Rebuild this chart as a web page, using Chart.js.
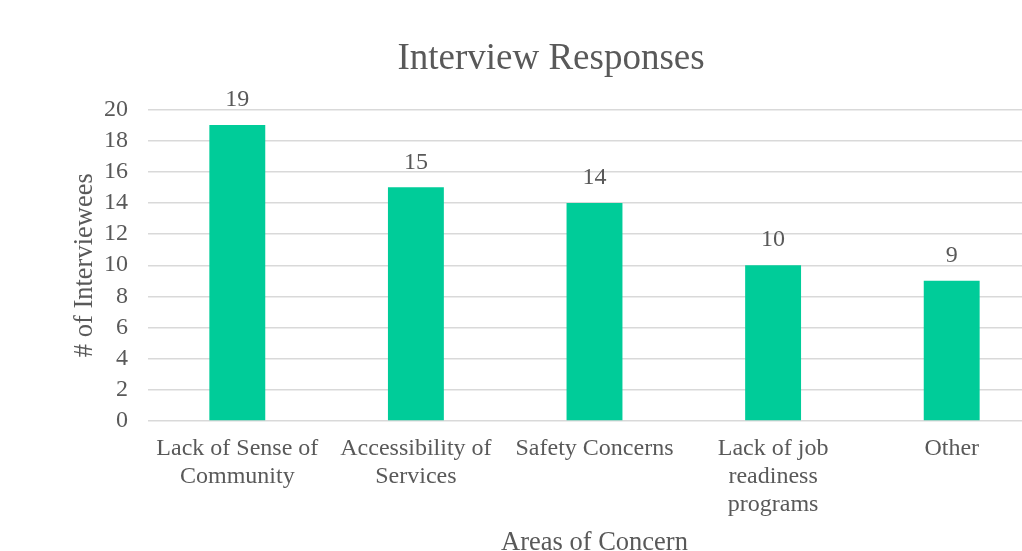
<!DOCTYPE html>
<html>
<head>
<meta charset="utf-8">
<script src="https://cdn.jsdelivr.net/npm/chart.js@4/dist/chart.umd.min.js"></script>
<style>
  html, body { margin: 0; padding: 0; overflow: hidden; background: #fff; }
  #wrap { width: 1102px; height: 551px; }
</style>
</head>
<body>
<div id="wrap"><canvas id="chart" width="1102" height="551"></canvas></div>
<script>
// --- data ---
const categories = [
    ['Lack of Sense of', 'Community'],
    ['Accessibility of', 'Services'],
    ['Safety Concerns'],
    ['Lack of job', 'readiness', 'programs'],
    ['Other']
];
const responses = [19, 15, 14, 10, 9];
const yTicks = [0, 2, 4, 6, 8, 10, 12, 14, 16, 18, 20];

const GRAY = '#595959';
const SERIF = '"Liberation Serif", "Times New Roman", serif';

// value labels on top of each bar
const barLabels = {
    id: 'barLabels',
    afterDatasetsDraw(chart) {
        const ctx = chart.ctx;
        const meta = chart.getDatasetMeta(0);
        ctx.save();
        ctx.font = '24px ' + SERIF;
        ctx.fillStyle = GRAY;
        ctx.textAlign = 'center';
        ctx.textBaseline = 'middle';
        meta.data.forEach((bar, i) => {
            ctx.fillText(String(responses[i]), bar.x, bar.y - 25);
        });
        ctx.restore();
    }
};

new Chart(document.getElementById('chart'), {
    type: 'bar',
    data: {
        labels: categories,
        datasets: [{
            data: responses,
            backgroundColor: '#00CC99',
            borderWidth: 0,
            barPercentage: 0.313,
            categoryPercentage: 1
        }]
    },
    options: {
        responsive: false,
        animation: false,
        layout: { padding: 0 },
        plugins: {
            legend: { display: false },
            tooltip: { enabled: false },
            title: {
                display: true,
                text: 'Interview Responses',
                color: GRAY,
                font: { family: SERIF, size: 37, weight: 'normal', lineHeight: 1.2 },
                padding: { top: 37, bottom: 28 }
            }
        },
        scales: {
            x: {
                grid: { display: false, drawTicks: false },
                border: { display: false },
                ticks: {
                    color: GRAY,
                    font: { family: SERIF, size: 24, lineHeight: 1.167 },
                    maxRotation: 0,
                    autoSkip: false,
                    padding: 14
                },
                title: {
                    display: true,
                    text: 'Areas of Concern',
                    color: GRAY,
                    font: { family: SERIF, size: 26.5, lineHeight: 0.6 },
                    padding: { top: 0, bottom: 0 }
                },
                afterFit(scale) { scale.height = 130; }
            },
            y: {
                min: 0,
                max: 20,
                afterBuildTicks(scale) { scale.ticks = yTicks.map(v => ({ value: v })); },
                grid: { color: '#D9D9D9', lineWidth: 1.4, drawTicks: false },
                border: { display: false },
                ticks: {
                    color: GRAY,
                    font: { family: SERIF, size: 24 },
                    autoSkip: false,
                    padding: 20
                },
                title: {
                    display: true,
                    text: '# of Interviewees',
                    color: GRAY,
                    font: { family: SERIF, size: 26.5, lineHeight: 1.2 },
                    padding: { top: 69, bottom: 0 }
                },
                afterFit(scale) { scale.width = 148; }
            },
            // empty axis on the right: the picture is cropped from a wider chart
            yRight: {
                position: 'right',
                display: true,
                grid: { display: false, drawTicks: false },
                border: { display: false },
                ticks: { display: false },
                afterFit(scale) { scale.width = 61; }
            }
        }
    },
    plugins: [barLabels]
});
</script>
</body>
</html>
